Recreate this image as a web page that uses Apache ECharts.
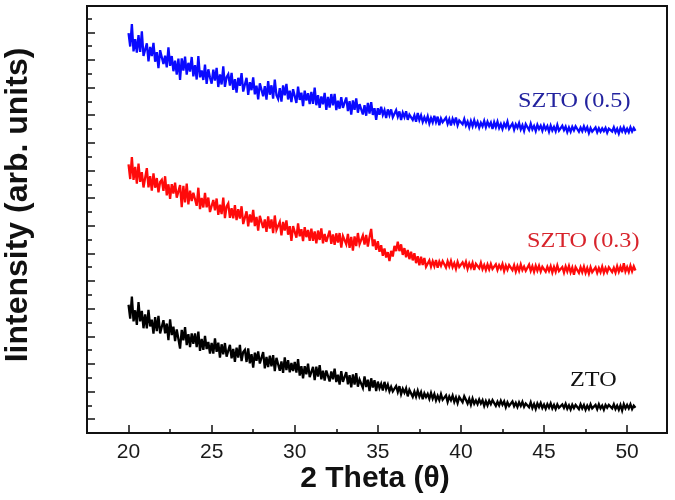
<!DOCTYPE html>
<html>
<head>
<meta charset="utf-8">
<script src="https://cdn.jsdelivr.net/npm/echarts@6/dist/echarts.min.js"></script>
<style>html,body{margin:0;padding:0;background:#fff}#c{width:675px;height:500px}</style>
</head>
<body>
<div id="c"></div>
<script>
// 2-theta scan: start angle and step (degrees)
var thetaStart = 20.0;
var thetaStep = 0.1;

var xMajorTicks = [20, 25, 30, 35, 40, 45, 50];
var xMinorTicks = [22.5, 27.5, 32.5, 37.5, 42.5, 47.5];
var yMajorTicks = [100, 300, 500, 700, 900, 1100, 1300, 1500, 1700, 1900, 2100, 2300, 2500, 2700, 2900];
var yMinorTicks = [200, 400, 600, 800, 1000, 1200, 1400, 1600, 1800, 2000, 2200, 2400, 2600, 2800, 3000];

var seriesNames = ['SZTO (0.5)', 'SZTO (0.3)', 'ZTO'];

var szto05 = [
2894,2797,2959,2762,2850,2752,2880,2758,2906,2728,
2736,2820,2690,2794,2728,2823,2687,2756,2641,2770,
2779,2670,2730,2646,2791,2657,2728,2618,2694,2594,
2710,2556,2711,2622,2723,2593,2679,2615,2721,2581,
2662,2558,2728,2574,2624,2555,2666,2526,2632,2572,
2528,2629,2551,2642,2504,2595,2522,2653,2505,2576,
2597,2514,2606,2483,2560,2463,2570,2512,2604,2471,
2478,2570,2447,2539,2481,2574,2451,2513,2415,2531,
2544,2437,2510,2413,2546,2448,2516,2419,2557,2444,
2417,2495,2398,2516,2444,2527,2414,2477,2395,2488,
2486,2389,2507,2410,2463,2365,2478,2406,2459,2381,
2469,2382,2500,2372,2445,2353,2436,2379,2461,2339,
2432,2355,2453,2371,2454,2337,2405,2347,2430,2353,
2351,2428,2330,2402,2304,2407,2339,2421,2318,2380,
2387,2305,2373,2296,2389,2311,2394,2302,2350,2267,
2350,2303,2361,2303,2336,2279,2342,2300,2342,2285,
2288,2336,2289,2327,2265,2318,2286,2328,2266,2304,
2312,2266,2299,2253,2316,2265,2298,2252,2285,2254,
2292,2241,2279,2248,2296,2250,2289,2227,2276,2249,
2243,2282,2237,2271,2225,2274,2243,2283,2227,2261,
2270,2234,2272,2226,2254,2213,2257,2220,2264,2222,
2251,2210,2245,2219,2258,2213,2252,2221,2246,2200,
2249,2213,2253,2207,2236,2200,2240,2214,2253,2202,
2206,2240,2195,2234,2209,2243,2197,2227,2186,2235,
2229,2193,2238,2197,2222,2186,2230,2200,2224,2188,
2227,2197,2221,2181,2225,2190,2215,2184,2229,2188,
2188,2223,2192,2217,2177,2211,2181,2216,2190,2220,
2215,2180,2210,2184,2219,2188,2213,2172,2207,2181,
2186,2211,2176,2205,2180,2204,2184,2208,2173,2203,
2207,2182,2212,2177,2202,2167,2207,2182,2212,2177,
2202,2177,2212,2182,2207,2187
];

var szto03 = [
1944,1838,1997,1832,1926,1805,1949,1818,1888,1777,
1791,1917,1777,1858,1754,1879,1775,1845,1741,1816,
1832,1753,1858,1719,1800,1695,1801,1732,1812,1703,
1714,1794,1634,1789,1669,1804,1654,1754,1679,1739,
1733,1644,1775,1620,1701,1632,1737,1633,1704,1599,
1605,1686,1611,1697,1578,1653,1584,1704,1555,1640,
1661,1557,1627,1553,1649,1540,1620,1551,1641,1512,
1523,1604,1496,1582,1524,1615,1497,1563,1465,1571,
1572,1483,1545,1456,1568,1479,1546,1447,1574,1470,
1461,1528,1431,1528,1465,1538,1435,1497,1390,1497,
1502,1414,1516,1423,1475,1388,1490,1417,1469,1391,
1478,1391,1459,1372,1465,1397,1480,1373,1441,1383,
1381,1465,1369,1437,1361,1445,1379,1447,1341,1425,
1437,1366,1441,1340,1419,1319,1423,1352,1447,1366,
1359,1429,1364,1434,1349,1419,1477,1352,1400,1325,
1388,1311,1359,1282,1336,1270,1309,1244,1318,1277,
1354,1316,1385,1316,1365,1289,1338,1272,1325,1258,
1311,1249,1301,1229,1279,1214,1275,1216,1267,1203,
1215,1249,1204,1243,1207,1252,1196,1240,1210,1244,
1238,1197,1242,1206,1245,1200,1229,1188,1238,1202,
1196,1235,1204,1239,1188,1227,1196,1231,1180,1224,
1228,1192,1232,1186,1216,1180,1219,1184,1223,1187,
1186,1220,1180,1214,1189,1223,1172,1212,1181,1215,
1214,1179,1214,1169,1209,1174,1219,1179,1204,1174,
1179,1218,1173,1207,1167,1211,1175,1210,1169,1203,
1207,1167,1202,1172,1207,1162,1202,1167,1212,1172,
1167,1201,1161,1205,1169,1209,1163,1197,1146,1200,
1194,1159,1199,1164,1204,1159,1194,1154,1199,1164,
1164,1199,1159,1194,1164,1204,1159,1194,1164,1199,
1199,1165,1195,1161,1207,1167,1203,1164,1229,1170,
1201,1166,1211,1171,1206,1176
];

var zto = [
928,828,988,808,888,783,948,808,883,758,
858,757,891,771,820,719,838,737,847,721,
720,816,721,792,672,823,709,769,665,750,
761,611,746,671,766,636,716,621,721,646,
721,622,733,594,680,601,702,608,659,575,
652,574,685,587,654,546,642,569,651,553,
556,638,541,608,515,618,545,637,520,587,
602,514,612,504,571,474,581,523,591,503,
503,585,468,550,477,560,482,564,447,544,
539,451,518,435,548,455,527,439,506,448,
515,437,534,416,484,396,483,425,502,404,
411,479,382,480,408,491,389,451,379,452,
460,373,446,388,466,369,422,350,447,370,
373,440,352,419,331,424,351,433,335,387,
399,327,410,333,386,303,396,329,382,304,
372,324,356,308,370,318,350,302,334,301,
298,340,297,339,281,319,291,323,265,312,
309,262,300,263,306,264,296,244,287,260,
283,247,290,249,282,236,269,238,281,240,
238,272,225,264,237,271,225,258,217,260,
259,223,266,240,213,247,205,249,212,236,
209,243,213,237,196,231,200,234,209,238,
232,196,226,200,234,204,228,187,222,196,
200,229,194,218,188,222,196,226,190,214,
218,187,222,181,210,174,214,188,217,181,
205,175,209,184,214,178,203,173,207,182,
177,207,182,211,176,200,170,204,179,203,
198,173,208,178,203,168,198,173,208,178,
178,203,173,208,178,198,168,203,183,203,
203,178,208,173,198,168,203,163,208,178,
203,178,208,173,198,183
];

var lineColors = ['#0a0aff', '#ff0a0a', '#000000'];
var labelColors = ['#23239f', '#d8242c', '#111111'];

function pairs(vals) {
  return vals.map(function (v, i) {
    return [Math.round((thetaStart + i * thetaStep) * 10) / 10, v];
  });
}

var allSeries = [szto05, szto03, zto];
var FONT = '"Liberation Sans", Arial, sans-serif';

var chart = echarts.init(document.getElementById('c'), null, { renderer: 'canvas' });
chart.setOption({
  animation: false,
  backgroundColor: '#ffffff',
  grid: { left: 87, right: 8, top: 6, bottom: 67, show: true, borderColor: '#111', borderWidth: 2, backgroundColor: 'transparent' },
  xAxis: [{
    type: 'value', min: 17.5, max: 52.4, position: 'bottom',
    axisLine: { show: true, onZero: false, lineStyle: { color: '#111', width: 2 } },
    axisTick: { show: true, inside: true, length: 8, customValues: xMajorTicks, lineStyle: { color: '#111', width: 1.5 } },
    axisLabel: { show: true, customValues: xMajorTicks, margin: 9, color: '#1a1a1a', fontSize: 21, fontFamily: FONT },
    splitLine: { show: false }
  }, {
    type: 'value', min: 17.5, max: 52.4, position: 'bottom', gridIndex: 0,
    axisLine: { show: false, onZero: false },
    axisTick: { show: true, inside: true, length: 4, customValues: xMinorTicks, lineStyle: { color: '#111', width: 1.5 } },
    axisLabel: { show: false },
    splitLine: { show: false }
  }],
  yAxis: [{
    type: 'value', min: 0, max: 3090, position: 'left',
    axisLine: { show: true, onZero: false, lineStyle: { color: '#111', width: 2 } },
    axisTick: { show: true, inside: true, length: 8, customValues: yMajorTicks, lineStyle: { color: '#111', width: 1.5 } },
    axisLabel: { show: false },
    splitLine: { show: false }
  }, {
    type: 'value', min: 0, max: 3090, position: 'left', gridIndex: 0,
    axisLine: { show: false, onZero: false },
    axisTick: { show: true, inside: true, length: 5, customValues: yMinorTicks, lineStyle: { color: '#111', width: 1.5 } },
    axisLabel: { show: false },
    splitLine: { show: false }
  }],
  series: allSeries.map(function (vals, k) {
    return {
      name: seriesNames[k], type: 'line', xAxisIndex: 0, yAxisIndex: 0,
      data: pairs(vals), showSymbol: false, symbol: 'none', sampling: null,
      lineStyle: { color: lineColors[k], width: 2.3, join: 'miter', miterLimit: 4 }, z: 3 - k
    };
  }),
  graphic: [
    { type: 'text', x: 18, y: 205, rotation: Math.PI / 2,
      style: { text: 'Iintensity (arb. units)', font: 'bold 32px ' + FONT, fill: '#111', align: 'center', verticalAlign: 'middle' } },
    { type: 'text', x: 375, y: 479,
      style: { text: '2 Theta (θ)', font: 'bold 30px ' + FONT, fill: '#111', align: 'center', verticalAlign: 'middle' } },
    { type: 'text', x: 518, y: 101, scaleX: 1.1,
      style: { text: seriesNames[0], font: '22px "Liberation Serif", "Times New Roman", serif', fill: labelColors[0], align: 'left', verticalAlign: 'middle' } },
    { type: 'text', x: 527, y: 241, scaleX: 1.1,
      style: { text: seriesNames[1], font: '22px "Liberation Serif", "Times New Roman", serif', fill: labelColors[1], align: 'left', verticalAlign: 'middle' } },
    { type: 'text', x: 570, y: 380, scaleX: 1.1,
      style: { text: seriesNames[2], font: '22px "Liberation Serif", "Times New Roman", serif', fill: labelColors[2], align: 'left', verticalAlign: 'middle' } }
  ]
});
</script>
</body>
</html>
